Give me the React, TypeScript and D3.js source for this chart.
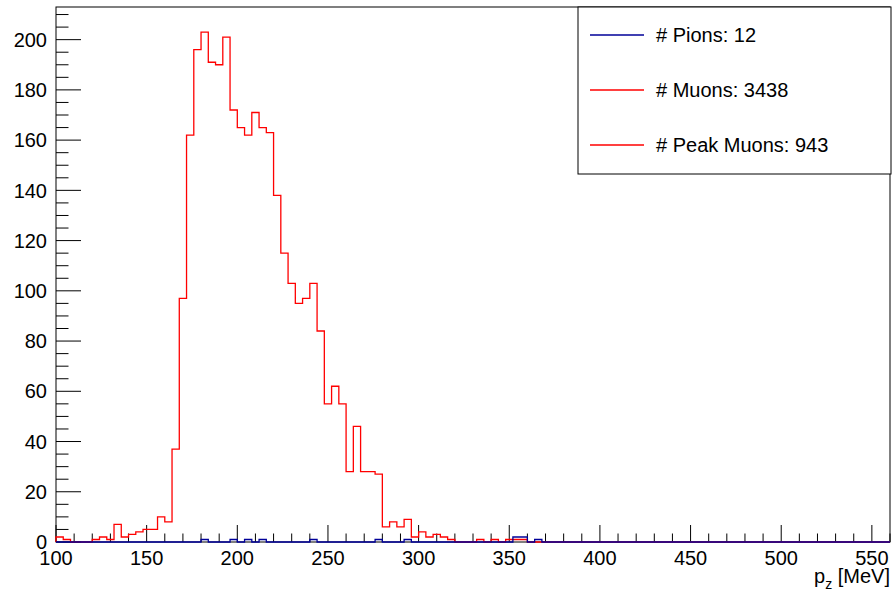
import React from "react";
import * as d3 from "d3";

// Histogram binning: 115 bins of width 4 MeV from 100 to 560
const binStart = 100;
const binWidth = 4;

// Muon counts per bin (starting at 100 MeV)
const muonCounts: number[] = [
  2, 1, 0, 0, 0, 1, 2, 1, 7, 2,
  3, 4, 5, 5, 10, 8, 37, 97, 162, 196,
  203, 191, 190, 201, 172, 165, 162, 171, 165, 163,
  138, 115, 103, 95, 97, 103, 84, 55, 62, 55,
  28, 46, 28, 28, 27, 6, 8, 6, 9, 2,
  4, 2, 3, 2, 1, 0, 0, 0, 1, 0,
  1, 0, 1, 1, 1, 0, 0, 0, 0, 0,
  0, 0, 0, 0, 0, 0, 0, 0, 0, 0,
  0, 0, 0, 0, 0, 0, 0, 0, 0, 0,
  0, 0, 0, 0, 0, 0, 0, 0, 0, 0,
  0, 0, 0, 0, 0, 0, 0, 0, 0, 0,
  0, 0, 0, 0, 0,
];

// Pion counts per bin (starting at 100 MeV)
const pionCounts: number[] = [
  0, 0, 0, 0, 0, 0, 0, 0, 0, 0,
  0, 0, 0, 0, 0, 0, 0, 0, 0, 0,
  1, 0, 0, 0, 1, 0, 1, 0, 1, 0,
  0, 0, 0, 0, 0, 1, 0, 0, 0, 0,
  0, 0, 0, 0, 1, 0, 0, 0, 1, 0,
  0, 0, 0, 0, 0, 0, 0, 0, 0, 0,
  0, 0, 0, 2, 2, 0, 1, 0, 0, 0,
  0, 0, 0, 0, 0, 0, 0, 0, 0, 0,
  0, 0, 0, 0, 0, 0, 0, 0, 0, 0,
  0, 0, 0, 0, 0, 0, 0, 0, 0, 0,
  0, 0, 0, 0, 0, 0, 0, 0, 0, 0,
  0, 0, 0, 0, 0,
];

const legendLabels = ["# Pions: 12", "# Muons: 3438", "# Peak Muons: 943"];
const legendColors = ["#000099", "#ff0000", "#ff0000"];

const xTickValues = [100, 150, 200, 250, 300, 350, 400, 450, 500, 550];
const yTickValues = [0, 20, 40, 60, 80, 100, 120, 140, 160, 180, 200];

const xDomain: [number, number] = [100, 560];
const yDomain: [number, number] = [0, 213];

const FONT = "'Liberation Sans', Arial, Helvetica, sans-serif";

export default function App() {
  const width = 893;
  const height = 592;
  const left = 56, right = 890, top = 7, bottom = 542;

  const x = d3.scaleLinear().domain(xDomain).range([left, right]);
  const y = d3.scaleLinear().domain(yDomain).range([bottom, top]);

  const stepPath = (counts: number[]) => {
    const pts: [number, number][] = [[x(binStart), y(0)]];
    counts.forEach((c, i) => {
      const e0 = binStart + i * binWidth;
      const e1 = e0 + binWidth;
      pts.push([x(e0), y(c)]);
      pts.push([x(e1), y(c)]);
    });
    pts.push([x(binStart + counts.length * binWidth), y(0)]);
    return d3.line()(pts) || "";
  };

  const xMinor = d3.range(100, 561, 10);
  const yMinor = d3.range(0, 211, 5);

  return (
    <svg width={width} height={height} style={{ position: "absolute", left: 0, top: 0, background: "#fff" }}>
      <rect x={0} y={0} width={width} height={height} fill="#fff" />
      {/* Frame */}
      <rect x={left} y={top} width={right - left} height={bottom - top} fill="none" stroke="#000" strokeWidth={1} />

      {/* Y ticks */}
      {yMinor.map((v) => {
        const major = v % 20 === 0;
        return (
          <line key={"ym" + v} x1={left} x2={left + (major ? 25 : 12.5)} y1={y(v)} y2={y(v)} stroke="#000" strokeWidth={1} />
        );
      })}
      {yTickValues.map((v) => (
        <text key={"yl" + v} x={47} y={y(v)} dy="0.36em" textAnchor="end" fontFamily={FONT} fontSize={20} fill="#000">
          {v}
        </text>
      ))}

      {/* X ticks */}
      {xMinor.map((v) => {
        const major = v % 50 === 0;
        return (
          <line key={"xm" + v} x1={x(v)} x2={x(v)} y1={bottom} y2={bottom - (major ? 17 : 8.5)} stroke="#000" strokeWidth={1} />
        );
      })}
      {xTickValues.map((v) => (
        <text key={"xl" + v} x={x(v)} y={565} textAnchor="middle" fontFamily={FONT} fontSize={20} fill="#000">
          {v}
        </text>
      ))}
      <text x={890} y={583} textAnchor="end" fontFamily={FONT} fontSize={20} fill="#000">
        <tspan>p</tspan>
        <tspan fontSize={14} dy={6}>z</tspan>
        <tspan dy={-6}> [MeV]</tspan>
      </text>

      {/* Histograms */}
      <path d={stepPath(muonCounts)} fill="none" stroke="#ff0000" strokeWidth={1.3} />
      <path d={stepPath(pionCounts)} fill="none" stroke="#000099" strokeWidth={1.3} />

      {/* Legend */}
      <rect x={578} y={7} width={313} height={167} fill="#fff" stroke="#000" strokeWidth={1} />
      {legendLabels.map((lab, i) => {
        const ly = 35 + i * 55;
        return (
          <g key={lab}>
            <line x1={590} x2={644} y1={ly} y2={ly} stroke={legendColors[i]} strokeWidth={1.3} />
            <text x={656} y={ly} dy="0.36em" fontFamily={FONT} fontSize={20} fill="#000">
              {lab}
            </text>
          </g>
        );
      })}
    </svg>
  );
}
